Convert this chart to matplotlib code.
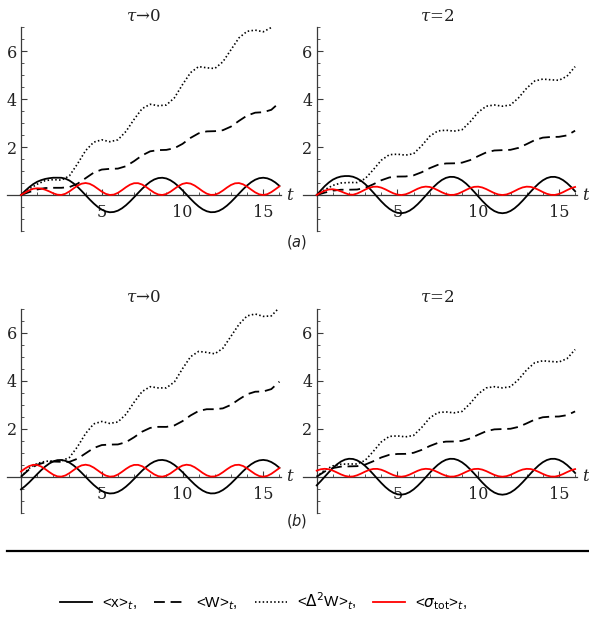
import numpy as np
import matplotlib
matplotlib.use("Agg")
import matplotlib.pyplot as plt
from matplotlib.font_manager import FontProperties
from matplotlib.ticker import FixedLocator, NullFormatter
from matplotlib.lines import Line2D

# ---------------- data ----------------
t_fine = np.linspace(0, 16, 65)     # samples every 0.25
t_coarse = np.linspace(0, 16, 33)   # samples every 0.5

# (a) tau -> 0
a0_x = [0, 0.17, 0.32, 0.45, 0.55, 0.62, 0.67, 0.70, 0.72, 0.72,
        0.718, 0.681, 0.602, 0.486, 0.340, 0.172, -0.006, -0.184, -0.350, -0.495,
        -0.609, -0.685, -0.719, -0.707, -0.652, -0.556, -0.426, -0.269, -0.096, 0.084,
        0.258, 0.416, 0.549, 0.647, 0.705, 0.719, 0.689, 0.615, 0.504, 0.361,
        0.195, 0.018, -0.161, -0.329, -0.478, -0.596, -0.677, -0.717, -0.711, -0.662,
        -0.571, -0.445, -0.291, -0.119, 0.060, 0.236, 0.397, 0.533, 0.636, 0.700,
        0.720, 0.695, 0.627, 0.521, 0.381]
a0_sigma = [0, 0.10, 0.19, 0.26, 0.28, 0.27, 0.22, 0.15, 0.07, 0.014,
            0.003, 0.052, 0.150, 0.272, 0.389, 0.471, 0.500, 0.467, 0.381, 0.263,
            0.142, 0.047, 0.002, 0.017, 0.089, 0.201, 0.325, 0.430, 0.491, 0.493,
            0.436, 0.333, 0.210, 0.096, 0.021, 0.001, 0.043, 0.135, 0.255, 0.374,
            0.463, 0.500, 0.475, 0.395, 0.280, 0.157, 0.057, 0.005, 0.012, 0.077,
            0.185, 0.309, 0.418, 0.486, 0.497, 0.446, 0.348, 0.226, 0.110, 0.028,
            0.000, 0.034, 0.120, 0.238, 0.360]
a0_W = [0, 0.12, 0.23, 0.29, 0.30, 0.30, 0.33, 0.47, 0.70, 0.93, 1.06, 1.09, 1.10,
        1.20, 1.41, 1.65, 1.82, 1.87, 1.88, 1.95, 2.13, 2.38, 2.57, 2.65, 2.66, 2.70,
        2.85, 3.09, 3.31, 3.43, 3.45, 3.55, 3.85]
a0_D2W = [0, 0.25, 0.45, 0.60, 0.64, 0.62, 0.80, 1.30, 1.85, 2.20, 2.30, 2.22, 2.30,
          2.65, 3.15, 3.60, 3.78, 3.72, 3.75, 4.05, 4.60, 5.10, 5.35, 5.30, 5.27, 5.55,
          6.05, 6.55, 6.82, 6.87, 6.80, 6.98, 7.40]

# (a) tau = 2
a2_x = [0, 0.19, 0.37, 0.52, 0.64, 0.72, 0.77, 0.79, 0.79, 0.76,
        0.691, 0.591, 0.455, 0.290, 0.107, -0.082, -0.267, -0.434, -0.575, -0.680,
        -0.743, -0.759, -0.729, -0.653, -0.536, -0.386, -0.212, -0.025, 0.163, 0.342,
        0.499, 0.626, 0.713, 0.756, 0.752, 0.701, 0.607, 0.475, 0.313, 0.132,
        -0.057, -0.243, -0.413, -0.558, -0.669, -0.737, -0.760, -0.736, -0.665, -0.554,
        -0.408, -0.236, -0.050, 0.139, 0.319, 0.480, 0.611, 0.704, 0.753, 0.755,
        0.711, 0.622, 0.494, 0.336, 0.157]
a2_sigma = [0, 0.10, 0.18, 0.23, 0.24, 0.21, 0.15, 0.08, 0.02, 0.011,
            0.061, 0.138, 0.225, 0.299, 0.343, 0.346, 0.307, 0.236, 0.150, 0.070,
            0.016, 0.000, 0.028, 0.092, 0.176, 0.260, 0.323, 0.350, 0.334, 0.279,
            0.199, 0.113, 0.042, 0.004, 0.007, 0.052, 0.127, 0.213, 0.291, 0.339,
            0.348, 0.314, 0.246, 0.161, 0.079, 0.021, 0.000, 0.022, 0.082, 0.164,
            0.249, 0.316, 0.348, 0.338, 0.288, 0.210, 0.124, 0.050, 0.007, 0.004,
            0.044, 0.116, 0.202, 0.282, 0.335]
a2_W = [0, 0.10, 0.18, 0.22, 0.22, 0.228, 0.298, 0.445, 0.614, 0.731, 0.768, 0.772,
        0.819, 0.948, 1.119, 1.256, 1.314, 1.320, 1.348, 1.454, 1.620, 1.775, 1.855,
        1.869, 1.883, 1.965, 2.120, 2.286, 2.390, 2.418, 2.424, 2.483, 2.68]
a2_D2W = [0, 0.22, 0.40, 0.50, 0.52, 0.52, 0.68, 1.05, 1.45, 1.68, 1.70, 1.66, 1.72,
          2.05, 2.45, 2.67, 2.70, 2.66, 2.72, 3.05, 3.45, 3.70, 3.75, 3.70, 3.75, 4.05,
          4.45, 4.75, 4.83, 4.80, 4.78, 4.95, 5.35]

# (b) tau -> 0
b0_x = [-0.526, -0.395, -0.240, -0.070, 0.105, 0.273, 0.424, 0.548, 0.639, 0.690,
        0.698, 0.662, 0.586, 0.473, 0.330, 0.167, -0.006, -0.179, -0.341, -0.481,
        -0.592, -0.666, -0.699, -0.688, -0.634, -0.541, -0.414, -0.262, -0.093, 0.082,
        0.251, 0.405, 0.534, 0.629, 0.686, 0.699, 0.670, 0.598, 0.490, 0.351,
        0.190, 0.017, -0.156, -0.320, -0.464, -0.579, -0.659, -0.697, -0.692, -0.644,
        -0.555, -0.433, -0.283, -0.116, 0.058, 0.229, 0.386, 0.518, 0.619, 0.680,
        0.700, 0.676, 0.610, 0.507, 0.371]
b0_sigma = [0.218, 0.341, 0.441, 0.495, 0.489, 0.424, 0.317, 0.193, 0.083, 0.014,
            0.003, 0.052, 0.150, 0.272, 0.389, 0.471, 0.500, 0.467, 0.381, 0.263,
            0.142, 0.047, 0.002, 0.017, 0.089, 0.201, 0.325, 0.430, 0.491, 0.493,
            0.436, 0.333, 0.210, 0.096, 0.021, 0.001, 0.043, 0.135, 0.255, 0.374,
            0.463, 0.500, 0.475, 0.395, 0.280, 0.157, 0.057, 0.005, 0.012, 0.077,
            0.185, 0.309, 0.418, 0.486, 0.497, 0.446, 0.348, 0.226, 0.110, 0.028,
            0.000, 0.034, 0.120, 0.238, 0.360]
b0_W = [0, 0.30, 0.50, 0.60, 0.63, 0.62, 0.620, 0.749, 0.972, 1.194, 1.318, 1.338,
        1.344, 1.438, 1.642, 1.876, 2.033, 2.077, 2.075, 2.137, 2.315, 2.552, 2.739,
        2.812, 2.812, 2.847, 2.993, 3.224, 3.435, 3.541, 3.552, 3.65, 3.96]
b0_D2W = [0, 0.35, 0.55, 0.64, 0.66, 0.66, 0.80, 1.25, 1.80, 2.20, 2.30, 2.22, 2.28,
          2.60, 3.10, 3.55, 3.75, 3.70, 3.70, 3.95, 4.50, 5.00, 5.22, 5.18, 5.12, 5.35,
          5.85, 6.35, 6.70, 6.78, 6.68, 6.70, 7.05]

# (b) tau = 2
b2_x = [-0.360, -0.186, 0.0, 0.186, 0.360, 0.511, 0.631, 0.712, 0.748, 0.738,
        0.682, 0.584, 0.449, 0.286, 0.106, -0.081, -0.263, -0.429, -0.568, -0.671,
        -0.733, -0.749, -0.719, -0.644, -0.529, -0.381, -0.210, -0.025, 0.161, 0.338,
        0.493, 0.617, 0.704, 0.746, 0.742, 0.691, 0.599, 0.469, 0.309, 0.131,
        -0.056, -0.240, -0.408, -0.551, -0.660, -0.727, -0.750, -0.726, -0.657, -0.547,
        -0.402, -0.233, -0.050, 0.137, 0.315, 0.474, 0.603, 0.694, 0.743, 0.745,
        0.701, 0.614, 0.488, 0.332, 0.155]
b2_sigma = [0.254, 0.310, 0.330, 0.310, 0.254, 0.177, 0.096, 0.033, 0.002, 0.010,
            0.058, 0.130, 0.212, 0.282, 0.323, 0.326, 0.290, 0.223, 0.141, 0.066,
            0.015, 0.000, 0.026, 0.087, 0.166, 0.245, 0.305, 0.330, 0.315, 0.263,
            0.188, 0.107, 0.040, 0.004, 0.007, 0.049, 0.120, 0.201, 0.274, 0.320,
            0.328, 0.296, 0.232, 0.152, 0.074, 0.020, 0.000, 0.021, 0.077, 0.155,
            0.235, 0.298, 0.328, 0.319, 0.272, 0.198, 0.117, 0.047, 0.007, 0.004,
            0.041, 0.109, 0.190, 0.266, 0.316]
b2_W = [0, 0.22, 0.36, 0.42, 0.43, 0.439, 0.504, 0.643, 0.802, 0.913, 0.947, 0.951,
        0.996, 1.117, 1.278, 1.408, 1.462, 1.467, 1.494, 1.594, 1.750, 1.896, 1.972,
        1.985, 1.998, 2.076, 2.222, 2.379, 2.477, 2.503, 2.508, 2.564, 2.72]
b2_D2W = [0, 0.28, 0.45, 0.52, 0.53, 0.53, 0.68, 1.05, 1.45, 1.68, 1.70, 1.66, 1.72,
          2.05, 2.45, 2.67, 2.70, 2.66, 2.72, 3.05, 3.45, 3.70, 3.75, 3.70, 3.75, 4.05,
          4.45, 4.75, 4.83, 4.80, 4.78, 4.92, 5.30]

panel_titles = ["$\\tau$\u21920", "$\\tau$=2"]
row_tags = ["($a$)", "($b$)"]
x_major = [5, 10, 15]
x_minor = [1, 2, 3, 4, 6, 7, 8, 9, 11, 12, 13, 14, 16]
y_major = [2, 4, 6]
y_minor = [-1.5, -1, -0.5, 0.5, 1, 1.5, 2.5, 3, 3.5, 4.5, 5, 5.5, 6.5, 7]
legend_labels = ["<x>$_t$,", "<W>$_t$,", "<$\\Delta^2$W>$_t$,",
                 "<$\\sigma_{\\mathrm{tot}}$>$_t$,"]

panels = [
    (a0_x, a0_sigma, a0_W, a0_D2W),
    (a2_x, a2_sigma, a2_W, a2_D2W),
    (b0_x, b0_sigma, b0_W, b0_D2W),
    (b2_x, b2_sigma, b2_W, b2_D2W),
]
for p in panels:
    assert len(p[0]) == 65 and len(p[1]) == 65 and len(p[2]) == 33 and len(p[3]) == 33

# ---------------- layout ----------------
FW, FH = 589, 617
fig = plt.figure(figsize=(FW / 100, FH / 100), dpi=100)
fig.patch.set_facecolor("white")

px_per_t = 16.15
xmin, xmax = -0.85, 16.1
ymin, ymax = -1.5, 7.0
ax_w = (xmax - xmin) * px_per_t
ax_h = (ymax - ymin) * 24.0
origins_x = [21.0, 316.7]
tops = [27.0, 308.7]

tick_font = dict(family="DejaVu Serif", size=11.5)
axis_color = "#3a3a3a"
dash_style = (0, (6.0, 3.2))
dot_style = (0, (0.9, 1.4))

handles = None
for i, (xs, sig, W, D2W) in enumerate(panels):
    r, c = divmod(i, 2)
    left = origins_x[c] + xmin * px_per_t
    top = tops[r]
    ax = fig.add_axes([left / FW, 1 - (top + ax_h) / FH, ax_w / FW, ax_h / FH])
    ax.set_xlim(xmin, xmax)
    ax.set_ylim(ymin, ymax)
    ax.patch.set_alpha(0)
    for s in ("top", "right"):
        ax.spines[s].set_visible(False)
    ax.spines["left"].set_position(("data", 0))
    ax.spines["bottom"].set_position(("data", 0))
    for s in ("left", "bottom"):
        ax.spines[s].set_color(axis_color)
        ax.spines[s].set_linewidth(0.9)
        ax.spines[s].set_zorder(1)

    l1, = ax.plot(t_fine, xs, color="black", lw=1.3, zorder=3)
    l2, = ax.plot(t_coarse, W, color="black", lw=1.3, linestyle=dash_style, zorder=3)
    l3, = ax.plot(t_coarse, D2W, color="black", lw=1.2, linestyle=dot_style, zorder=3)
    l4, = ax.plot(t_fine, sig, color="#ff0000", lw=1.3, zorder=4)
    if handles is None:
        handles = [l1, l2, l3, l4]

    ax.xaxis.set_major_locator(FixedLocator(x_major))
    ax.xaxis.set_minor_locator(FixedLocator(x_minor))
    ax.yaxis.set_major_locator(FixedLocator(y_major))
    ax.yaxis.set_minor_locator(FixedLocator(y_minor))
    ax.xaxis.set_minor_formatter(NullFormatter())
    ax.yaxis.set_minor_formatter(NullFormatter())
    ax.tick_params(which="major", direction="in", length=4, width=0.8,
                   color=axis_color, labelcolor="#222222")
    ax.tick_params(which="minor", direction="in", length=2.2, width=0.6,
                   color=axis_color)
    ax.tick_params(axis="x", which="major", pad=6.5)
    ax.tick_params(axis="y", which="major", pad=3)
    for lab in ax.get_xticklabels() + ax.get_yticklabels():
        lab.set_fontfamily(tick_font["family"])
        lab.set_fontsize(tick_font["size"])

    ax.annotate("t", xy=(xmax, 0), xycoords="data", xytext=(4, 0),
                textcoords="offset points", ha="left", va="center",
                fontsize=12, family="DejaVu Serif", style="italic",
                color="#222222", annotation_clip=False)

# panel titles
title_x = [143, 437.5]
title_y = [16, 297.5]
for r in range(2):
    for c in range(2):
        fig.text(title_x[c] / FW, 1 - title_y[r] / FH, panel_titles[c],
                 ha="center", va="center", fontsize=12, family="DejaVu Serif",
                 math_fontfamily="dejavuserif", color="#222222")

# row tags
tag_y = [242, 521]
for r in range(2):
    fig.text(297 / FW, 1 - tag_y[r] / FH, row_tags[r], ha="center", va="center",
             fontsize=10.5, family="DejaVu Sans", math_fontfamily="dejavusans",
             color="#222222")

# separator rule
fig.add_artist(Line2D([7 / FW, 1.0], [1 - 550.7 / FH, 1 - 550.7 / FH],
                      transform=fig.transFigure, color="black", lw=1.6))

# legend
fp = FontProperties(family="Liberation Sans", size=11, math_fontfamily="dejavusans")
leg = fig.legend(handles, legend_labels, loc="center",
                 bbox_to_anchor=(264 / FW, 1 - 601.7 / FH), ncol=4, frameon=False,
                 prop=fp, handlelength=2.1, handletextpad=0.65, columnspacing=1.1,
                 borderaxespad=0)

fig.savefig("out.png", dpi=100, facecolor="white")
